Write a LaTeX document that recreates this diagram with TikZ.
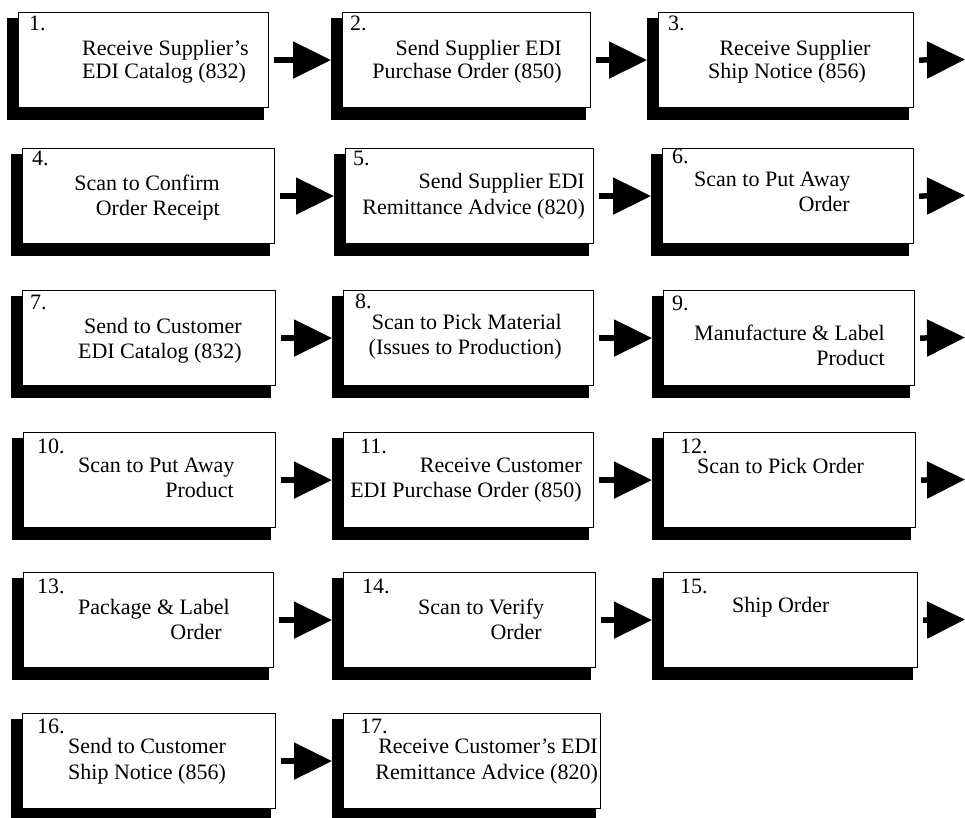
\documentclass[tikz,border=0pt]{standalone}
\usepackage{fontspec}
\setmainfont{Liberation Serif}
\usetikzlibrary{arrows.meta,backgrounds}
\begin{document}
\begin{tikzpicture}[x=1pt,y=-1pt,
  stepbox/.style={draw=black, line width=1.1pt, fill=white, inner sep=0pt, anchor=north west, minimum height=95pt},
  txt/.style={font=\fontsize{22}{25}\selectfont, inner sep=0pt},
  arr/.style={line width=5.5pt, -{Triangle[length=38pt,width=36pt]}}]
\useasboundingbox (0,0) rectangle (965,817);

% boxes
\node[stepbox, minimum width=250pt] (b1) at (18,12) {};
\node[stepbox, minimum width=248pt] (b2) at (342,12) {};
\node[stepbox, minimum width=255pt] (b3) at (658,12) {};
\node[stepbox, minimum width=252pt] (b4) at (22,148) {};
\node[stepbox, minimum width=248pt] (b5) at (345,148) {};
\node[stepbox, minimum width=251pt] (b6) at (662,148) {};
\node[stepbox, minimum width=253pt] (b7) at (22,290) {};
\node[stepbox, minimum width=250pt] (b8) at (343,290) {};
\node[stepbox, minimum width=251pt] (b9) at (663,290) {};
\node[stepbox, minimum width=252pt] (b10) at (23,432) {};
\node[stepbox, minimum width=250pt] (b11) at (343,432) {};
\node[stepbox, minimum width=252pt] (b12) at (663,432) {};
\node[stepbox, minimum width=250pt] (b13) at (23,572) {};
\node[stepbox, minimum width=252pt] (b14) at (343,572) {};
\node[stepbox, minimum width=254pt] (b15) at (663,572) {};
\node[stepbox, minimum width=253pt] (b16) at (22,713) {};
\node[stepbox, minimum width=257pt] (b17) at (343,713) {};

% shadows
\begin{pgfonlayer}{background}
\foreach \i in {1,...,17}
  \fill[black] ([xshift=-11pt,yshift=-6pt]b\i.north west) rectangle ([xshift=-5pt,yshift=-12pt]b\i.south east);
\end{pgfonlayer}

% texts
\node[txt, anchor=base west] (n1) at (29,30) {1.};
\node[txt, anchor=base west] (l1a) at (82,55) {Receive Supplier's};
\node[txt, anchor=base west] (l1b) at (82,78) {EDI Catalog (832)};

\node[txt, anchor=base west] (n2) at (350,30) {2.};
\node[txt, anchor=base east] (l2a) at (562,55) {Send Supplier EDI};
\node[txt, anchor=base east] (l2b) at (562,78) {Purchase Order (850)};

\node[txt, anchor=base west] (n3) at (668,30) {3.};
\node[txt, anchor=base] (l3a) at (795,55) {Receive Supplier};
\node[txt, anchor=base] (l3b) at (787,78) {Ship Notice (856)};

\node[txt, anchor=base west] (n4) at (32,165) {4.};
\node[txt, anchor=base east] (l4a) at (220,190) {Scan to Confirm};
\node[txt, anchor=base east] (l4b) at (220,215) {Order Receipt};

\node[txt, anchor=base west] (n5) at (353,165) {5.};
\node[txt, anchor=base east] (l5a) at (585,188) {Send Supplier EDI};
\node[txt, anchor=base east] (l5b) at (585,214) {Remittance Advice (820)};

\node[txt, anchor=base west] (n6) at (672,163) {6.};
\node[txt, anchor=base west] (l6a) at (694,186) {Scan to Put Away};
\node[txt, anchor=base east] (l6b) at (850,211) {Order};

\node[txt, anchor=base west] (n7) at (30,309) {7.};
\node[txt, anchor=base east] (l7a) at (242,333) {Send to Customer};
\node[txt, anchor=base east] (l7b) at (242,358) {EDI Catalog (832)};

\node[txt, anchor=base west] (n8) at (355,308) {8.};
\node[txt, anchor=base east] (l8a) at (562,329) {Scan to Pick Material};
\node[txt, anchor=base east] (l8b) at (562,354) {(Issues to Production)};

\node[txt, anchor=base west] (n9) at (672,310) {9.};
\node[txt, anchor=base east] (l9a) at (885,340) {Manufacture \& Label};
\node[txt, anchor=base east] (l9b) at (885,365) {Product};

\node[txt, anchor=base west] (n10) at (37,453) {10.};
\node[txt, anchor=base west] (l10a) at (78,472) {Scan to Put Away};
\node[txt, anchor=base east] (l10b) at (234,497) {Product};

\node[txt, anchor=base west] (n11) at (360,453) {11.};
\node[txt, anchor=base east] (l11a) at (582,472) {Receive Customer};
\node[txt, anchor=base east] (l11b) at (582,497) {EDI Purchase Order (850)};

\node[txt, anchor=base west] (n12) at (680,453) {12.};
\node[txt, anchor=base west] (l12a) at (697,473) {Scan to Pick Order};

\node[txt, anchor=base west] (n13) at (37,593) {13.};
\node[txt, anchor=base west] (l13a) at (78,614) {Package \& Label};
\node[txt, anchor=base east] (l13b) at (222,639) {Order};

\node[txt, anchor=base west] (n14) at (362,593) {14.};
\node[txt, anchor=base west] (l14a) at (418,614) {Scan to Verify};
\node[txt, anchor=base east] (l14b) at (542,639) {Order};

\node[txt, anchor=base west] (n15) at (680,593) {15.};
\node[txt, anchor=base west] (l15a) at (732,612) {Ship Order};

\node[txt, anchor=base west] (n16) at (37,733) {16.};
\node[txt, anchor=base west] (l16a) at (68,753) {Send to Customer};
\node[txt, anchor=base west] (l16b) at (68,779) {Ship Notice (856)};

\node[txt, anchor=base west] (n17) at (360,733) {17.};
\node[txt, anchor=base east] (l17a) at (598,753) {Receive Customer's EDI};
\node[txt, anchor=base east] (l17b) at (598,779) {Remittance Advice (820)};

% row-end coordinates
\coordinate (e1) at (965,59.5);
\coordinate (e2) at (965,195.5);
\coordinate (e3) at (965,337.5);
\coordinate (e4) at (965,479.5);
\coordinate (e5) at (965,619.5);

% arrows
\draw[arr] ([xshift=5pt]b1.east) -- ([xshift=-11pt]b2.west);
\draw[arr] ([xshift=5pt]b2.east) -- ([xshift=-11pt]b3.west);
\draw[arr] ([xshift=5pt]b3.east) -- (e1);
\draw[arr] ([xshift=5pt]b4.east) -- ([xshift=-11pt]b5.west);
\draw[arr] ([xshift=5pt]b5.east) -- ([xshift=-11pt]b6.west);
\draw[arr] ([xshift=5pt]b6.east) -- (e2);
\draw[arr] ([xshift=5pt]b7.east) -- ([xshift=-11pt]b8.west);
\draw[arr] ([xshift=5pt]b8.east) -- ([xshift=-11pt]b9.west);
\draw[arr] ([xshift=5pt]b9.east) -- (e3);
\draw[arr] ([xshift=5pt]b10.east) -- ([xshift=-11pt]b11.west);
\draw[arr] ([xshift=5pt]b11.east) -- ([xshift=-11pt]b12.west);
\draw[arr] ([xshift=5pt]b12.east) -- (e4);
\draw[arr] ([xshift=5pt]b13.east) -- ([xshift=-11pt]b14.west);
\draw[arr] ([xshift=5pt]b14.east) -- ([xshift=-11pt]b15.west);
\draw[arr] ([xshift=5pt]b15.east) -- (e5);
\draw[arr] ([xshift=5pt]b16.east) -- ([xshift=-11pt]b17.west);
\end{tikzpicture}
\end{document}
